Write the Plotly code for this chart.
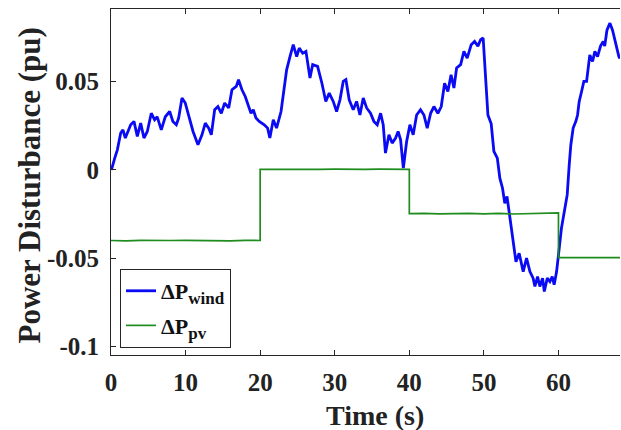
import plotly.graph_objects as go

# ---- data ----
wind_t = [0.0, 0.13, 0.5, 0.85, 1.3, 1.6, 1.92, 2.28, 2.64, 3.08, 3.53, 3.98, 4.42, 4.87, 5.4,
          5.85, 6.2, 6.74, 7.28, 7.87, 8.3, 8.76, 9.07, 9.52, 9.96, 10.4, 11.0, 11.66, 12.2,
          12.64, 13.1, 13.45, 13.9, 14.34, 14.79, 15.24, 15.78, 16.22, 16.8, 17.1, 17.56, 18.0,
          18.46, 18.77, 19.08, 19.44, 19.88, 20.55, 21.0, 21.3, 21.76, 22.2, 22.8, 23.23, 23.55,
          24.0, 24.44, 24.9, 25.24, 25.7, 26.14, 26.68, 27.04, 27.7, 28.28, 28.8, 29.26, 29.8,
          30.25, 30.7, 31.14, 31.5, 31.94, 32.48, 32.93, 33.38, 33.82, 34.28, 34.8, 35.25, 35.7,
          36.15, 36.5, 36.8, 37.27, 37.7, 38.16, 38.5, 38.83, 39.2, 39.64, 40.08, 40.52, 40.98,
          41.5, 41.96, 42.4, 42.86, 43.3, 43.83, 44.28, 44.73, 45.17, 45.6, 45.98, 46.34, 46.88,
          47.32, 47.76, 48.3, 48.75, 49.2, 49.56, 49.9, 50.23, 50.54, 50.98, 51.34, 51.8, 52.14,
          52.5, 52.8, 53.1, 53.58, 53.93, 54.3, 54.73, 55.27, 55.72, 56.17, 56.6, 56.84, 57.2,
          57.5, 57.87, 58.1, 58.5, 58.85, 59.16, 59.42, 59.75, 60.05, 60.4, 60.86, 61.17, 61.44,
          61.66, 61.97, 62.33, 62.56, 62.78, 63.1, 63.4, 63.77, 63.98, 64.2, 64.57, 64.88, 65.24,
          65.64, 66.0, 66.2, 66.5, 66.9, 67.25, 67.7, 68.1, 68.25]
wind_v = [0.0, 0.001, 0.0066, 0.0113, 0.0208, 0.0226, 0.018, 0.0217, 0.0255, 0.0274, 0.0189,
          0.0264, 0.018, 0.0217, 0.032, 0.0283, 0.030, 0.0226, 0.030, 0.033, 0.0274, 0.0255,
          0.0293, 0.0406, 0.0378, 0.031, 0.0217, 0.0142, 0.0198, 0.0264, 0.0236, 0.0198, 0.034,
          0.0358, 0.032, 0.0378, 0.035, 0.0453, 0.0472, 0.051, 0.0453, 0.0415, 0.035, 0.032,
          0.034, 0.0293, 0.0274, 0.0255, 0.0236, 0.018, 0.0283, 0.0236, 0.033, 0.0472, 0.0566,
          0.064, 0.0708, 0.064, 0.0689, 0.066, 0.067, 0.052, 0.0595, 0.0585, 0.049, 0.0387,
          0.0434, 0.0387, 0.033, 0.0396, 0.050, 0.051, 0.0396, 0.034, 0.0387, 0.031, 0.0406,
          0.035, 0.032, 0.0274, 0.0255, 0.032, 0.0255, 0.0095, 0.0198, 0.0151, 0.018, 0.0217,
          0.017, 0.001, 0.016, 0.0255, 0.0198, 0.031, 0.034, 0.031, 0.0236, 0.032, 0.0358,
          0.032, 0.0358, 0.049, 0.0443, 0.0538, 0.0463, 0.0576, 0.0595, 0.067, 0.0632, 0.0708,
          0.0727, 0.070, 0.0736, 0.0746, 0.0538, 0.031, 0.0260, 0.0104, 0.0066, -0.0047,
          -0.0104, -0.019, -0.0151, -0.0293, -0.0425, -0.052, -0.0472, -0.0576, -0.050,
          -0.0576, -0.0613, -0.066, -0.0604, -0.066, -0.0613, -0.0689, -0.0613, -0.0632,
          -0.0604, -0.065, -0.0576, -0.0443, -0.033, -0.0217, -0.0142, 0.0028, 0.0142, 0.0236,
          0.0274, 0.031, 0.0387, 0.0443, 0.050, 0.050, 0.0595, 0.065, 0.0613, 0.067, 0.064,
          0.070, 0.0727, 0.070, 0.079, 0.083, 0.079, 0.0708, 0.064, 0.063]

pv_t = [0, 2, 4, 6, 8, 10, 12, 14, 16, 18, 20,
        20, 22, 24, 26, 28, 30, 32, 34, 36, 38, 40,
        40, 42, 44, 46, 48, 50, 52, 54, 56, 58, 59.5, 60,
        60, 62, 64, 66, 68.25]
pv_v = [-0.0400, -0.0402, -0.0399, -0.0401, -0.0400, -0.0399, -0.0401, -0.0400, -0.0402, -0.0399, -0.0400,
        0.0003, 0.0002, 0.0004, 0.0002, 0.0003, 0.0004, 0.0002, 0.0003, 0.0004, 0.0002, 0.0003,
        -0.0248, -0.0246, -0.0249, -0.0247, -0.0246, -0.0249, -0.0247, -0.0250, -0.0248, -0.0245, -0.0243, -0.0244,
        -0.0497, -0.0498, -0.0496, -0.0498, -0.0497]

x_ticks = [0, 10, 20, 30, 40, 50, 60]
x_tick_labels = ["0", "10", "20", "30", "40", "50", "60"]
y_ticks = [-0.1, -0.05, 0, 0.05]
y_tick_labels = ["-0.1", "-0.05", "0", "0.05"]

FONT = "Liberation Serif"
AX = "#262626"

fig = go.Figure()
fig.add_trace(go.Scatter(x=wind_t, y=wind_v, mode="lines", legendgroup="w",
                         name="<b>ΔP<sub><span style='font-size:17px'>wind</span></sub></b>",
                         line=dict(color="#0a0af5", width=2.8)))
fig.add_trace(go.Scatter(x=pv_t, y=pv_v, mode="lines", legendgroup="p",
                         name="<b>ΔP<sub><span style='font-size:17px'>pv</span></sub></b>",
                         line=dict(color="#1e8c1e", width=1.7)))

fig.update_layout(
    width=621, height=430,
    margin=dict(l=111, r=1, t=9, b=75),
    paper_bgcolor="white", plot_bgcolor="white",
    showlegend=True,
    legend=dict(x=0.0177, y=0.2486, xanchor="left", yanchor="top",
                bgcolor="white", bordercolor=AX, borderwidth=1,
                font=dict(family=FONT, size=22, color="#111"),
                tracegroupgap=3, itemwidth=30),
    xaxis=dict(range=[0, 68.25], tickvals=x_ticks,
               ticktext=["<b>" + s + "</b>" for s in x_tick_labels],
               ticks="inside", ticklen=5, tickcolor=AX, showline=True, linecolor=AX,
               linewidth=1, mirror="ticks", showgrid=False, zeroline=False,
               ticklabelstandoff=5,
               tickfont=dict(family=FONT, size=25, color="#222")),
    yaxis=dict(range=[-0.1048, 0.091], tickvals=y_ticks,
               ticktext=["<b>" + s + "</b>" for s in y_tick_labels],
               ticks="inside", ticklen=5, tickcolor=AX, showline=True, linecolor=AX,
               linewidth=1, mirror=False, showgrid=False, zeroline=False,
               ticklabelstandoff=6,
               tickfont=dict(family=FONT, size=25, color="#222")),
    annotations=[
        dict(text="<b>Time (s)</b>", xref="paper", yref="paper", x=0.519, y=-0.174,
             xanchor="center", yanchor="middle", showarrow=False,
             font=dict(family=FONT, size=28, color="#222")),
        dict(text="<b>Power Disturbance (pu)</b>", xref="paper", yref="paper",
             x=-0.161, y=0.49, xanchor="center", yanchor="middle", textangle=-90,
             showarrow=False, font=dict(family=FONT, size=31, color="#222")),
    ],
)

fig.write_html("out.html", config={"displayModeBar": False},
               post_script="document.body.style.margin='0';document.body.style.padding='0';")
